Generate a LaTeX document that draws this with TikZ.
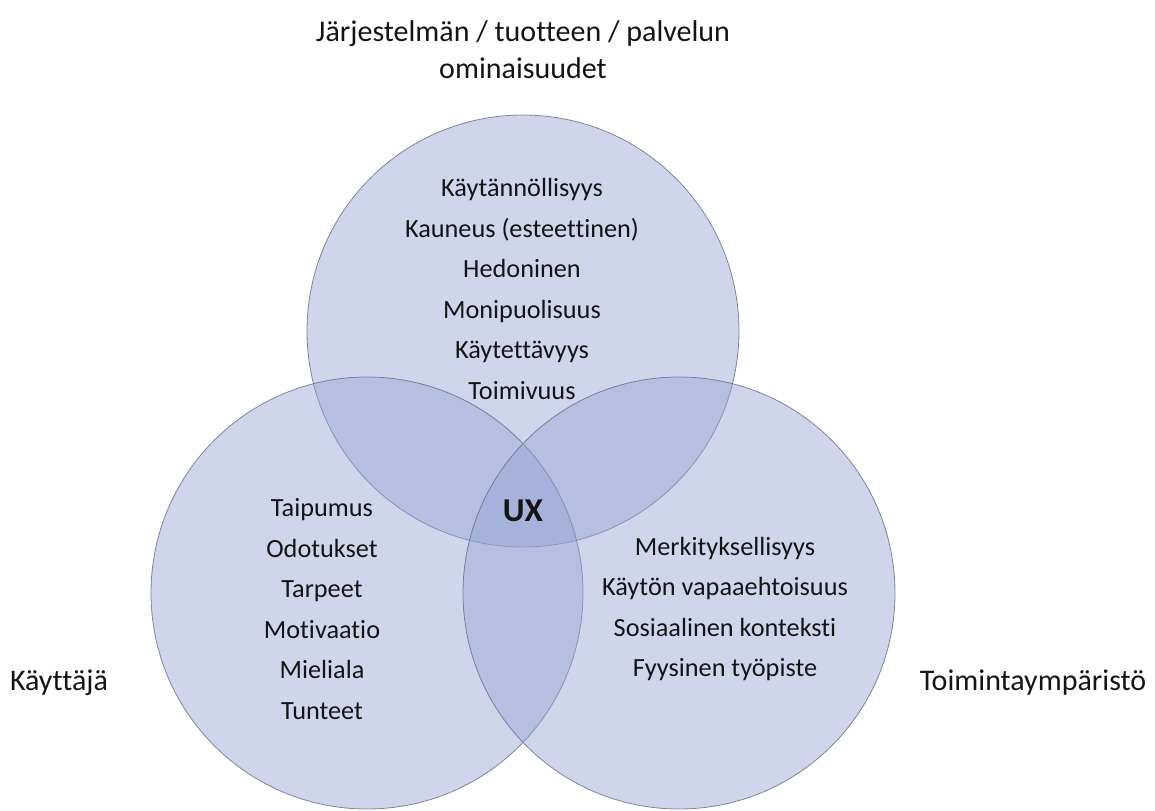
\documentclass[tikz,border=0pt]{standalone}
\usepackage{fontspec}
\setmainfont[Ligatures=NoCommon]{Carlito}
\definecolor{vennfill}{RGB}{146,162,212}
\definecolor{vennline}{RGB}{100,108,130}
\definecolor{txt}{RGB}{20,20,20}
\begin{document}
\begin{tikzpicture}[x=0.75pt,y=-0.75pt,
  venn/.style={fill=vennfill,fill opacity=0.44,draw=vennline,draw opacity=0.8,line width=0.6pt},
  lbl/.style={align=center,text=txt,font=\fontsize{19.7}{30.4}\selectfont,inner sep=0pt},
  head/.style={align=center,text=txt,font=\fontsize{22.5}{27.75}\selectfont,inner sep=0pt}]
\useasboundingbox (0,0) rectangle (1155,810);
\coordinate (ctop) at (523,331);
\coordinate (cleft) at (367,593);
\coordinate (cright) at (679,593);
\path[venn] (ctop) circle[radius=162pt];
\path[venn] (cleft) circle[radius=162pt];
\path[venn] (cright) circle[radius=162pt];
\node[lbl] (top) at (522,289) {Käytännöllisyys\\Kauneus (esteettinen)\\Hedoninen\\Monipuolisuus\\Käytettävyys\\Toimivuus};
\node[lbl] (left) at (322,609) {Taipumus\\Odotukset\\Tarpeet\\Motivaatio\\Mieliala\\Tunteet};
\node[lbl] (right) at (725,609) {Merkityksellisyys\\Käytön vapaaehtoisuus\\Sosiaalinen konteksti\\Fyysinen työpiste};
\node[text=txt,font=\fontsize{25}{30}\selectfont\bfseries,inner sep=0pt] (ux) at (523,511) {UX};
\node[head] (title) at (523,50) {Järjestelmän / tuotteen / palvelun\\ominaisuudet};
\node[head] (user) at (59,683) {Käyttäjä};
\node[head] (env) at (1033,683) {Toimintaympäristö};
\end{tikzpicture}
\end{document}
